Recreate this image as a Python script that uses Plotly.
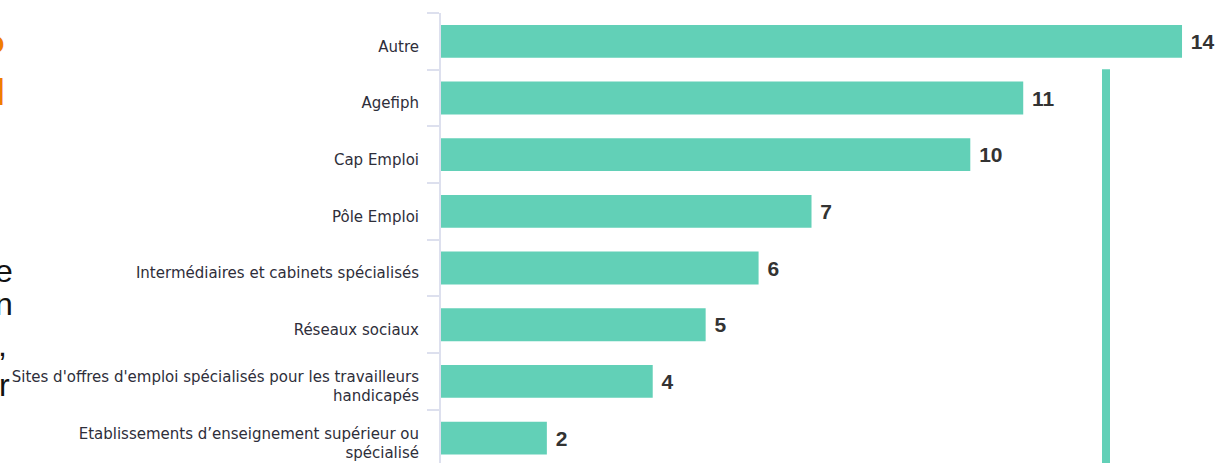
import plotly.graph_objects as go

categories = [
    "Autre",
    "Agefiph",
    "Cap Emploi",
    "Pôle Emploi",
    "Intermédiaires et cabinets spécialisés",
    "Réseaux sociaux",
    "Sites d'offres d'emploi spécialisés pour les travailleurs<br>handicapés",
    "Etablissements d’enseignement supérieur ou<br>spécialisé",
]
values = [14, 11, 10, 7, 6, 5, 4, 2]

W, H = 1221, 463
L, T = 441, 12.6
PW = W - L

BAR = "#62d0b7"
AXIS = "#dde0ee"

fig = go.Figure(go.Bar(
    y=categories, x=values, orientation="h",
    marker=dict(color=BAR, line=dict(width=0)),
    text=[f" {v}" for v in values], textposition="outside",
    textfont=dict(family="Liberation Sans, Arial", size=21, color="#333333", weight="bold"),
    cliponaxis=False, hoverinfo="skip",
))

def px_to_paper(px):
    return (px - L) / PW

fig.add_shape(type="rect", xref="paper", yref="paper",
              x0=px_to_paper(1102), x1=px_to_paper(1110),
              y0=-0.01, y1=(H - 69) / (H - T),
              fillcolor=BAR, line=dict(width=0), layer="above")

# partial fragments of cut-off slide text at the left edge
def ypaper(py):
    return (H - py) / (H - T)

frags = [
    ("o", 6.5, 42, "#f07d00", True, 32),
    ("l", 7, 92, "#f07d00", True, 36),
    ("e", 15, 271, "#111111", False, 32),
    ("n", 15, 304, "#111111", False, 32),
    (",", 9, 345, "#111111", False, 32),
    ("r", 12, 385, "#111111", False, 32),
]
for t, xr, yc, col, bold, sz in frags:
    fig.add_annotation(text=f"<b>{t}</b>" if bold else t, xref="paper", yref="paper",
                       x=px_to_paper(xr), y=ypaper(yc), xanchor="right", yanchor="middle",
                       showarrow=False,
                       font=dict(family="Liberation Sans, Arial", size=sz, color=col))

fig.update_layout(
    width=W, height=H,
    margin=dict(l=L, r=0, t=T, b=0),
    paper_bgcolor="white", plot_bgcolor="white",
    bargap=0.42, showlegend=False,
    xaxis=dict(range=[0, PW / 52.93], visible=False, showgrid=False, zeroline=False),
    yaxis=dict(
        type="category", categoryorder="array", categoryarray=categories,
        range=[7.44, -0.5],
        tickson="boundaries", ticks="outside", ticklen=12, tickcolor=AXIS, tickwidth=2,
        showline=True, linecolor=AXIS, linewidth=2, showgrid=False,
        ticklabelstandoff=17, ticklabelshift=-5,
        tickfont=dict(family="DejaVu Sans", size=15, color="#2e2e3a"),
    ),
)

fig.write_html("out.html", config={"displayModeBar": False},
               post_script="document.body.style.margin='0';document.body.style.overflow='hidden';")
